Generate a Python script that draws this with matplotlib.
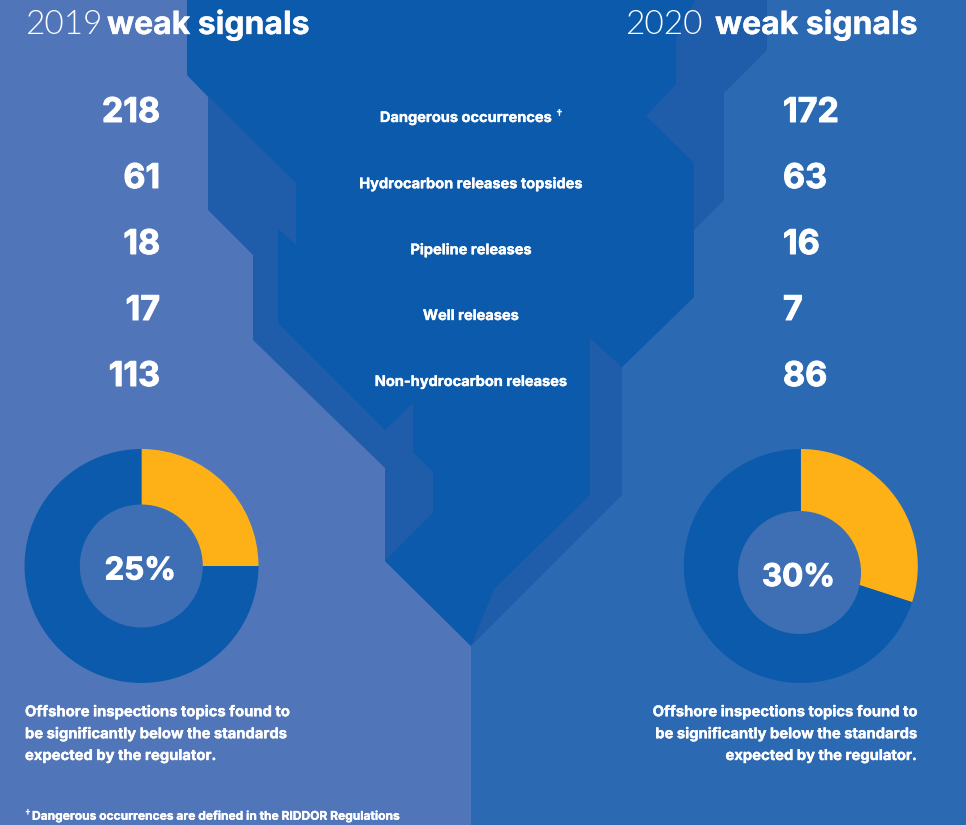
import matplotlib
matplotlib.use("Agg")
import matplotlib.pyplot as plt
import matplotlib.patheffects as pe
from matplotlib.patches import Polygon, Circle, Rectangle

categories = ["Dangerous occurrences", "Hydrocarbon releases topsides", "Pipeline releases",
              "Well releases", "Non-hydrocarbon releases"]
signals_2019 = [218, 61, 18, 17, 113]
signals_2020 = [172, 63, 16, 7, 86]
below_2019 = [25, 75]
below_2020 = [30, 70]
row_y = [110, 176, 242, 308, 374]

LEFT_BG = "#5175b9"
RIGHT_BG = "#2c69b3"
MID = "#1f5ca9"
DARK = "#0b5aac"
YELLOW = "#fdb116"
INNER = "#3e6fb5"
WHITE = "#ffffff"
BOLD = "Inter"
W, H = 966, 825

# Inter bold is a little lighter than the original face
HEAVY = [pe.withStroke(linewidth=0.7, foreground=WHITE)]
SEMI = [pe.withStroke(linewidth=0.25, foreground=WHITE)]

fig = plt.figure(figsize=(W / 100, H / 100), dpi=100)
ax = fig.add_axes([0, 0, 1, 1])
ax.set_xlim(0, W)
ax.set_ylim(H, 0)
ax.axis("off")

# background shapes, traced in pixels
ax.add_patch(Rectangle((0, 0), 471, H, color=LEFT_BG, lw=0))
ax.add_patch(Rectangle((471, 0), W - 471, H, color=RIGHT_BG, lw=0))
mid_shape = [(187, 0), (187, 75), (208, 97), (208, 210), (253, 255), (253, 340), (385, 468),
             (385, 561), (471, 646), (622, 495), (622, 367), (694, 297), (694, 230), (724, 200),
             (724, 93), (767, 50), (767, 0)]
dark_shape = [(187, 0), (187, 75), (296, 183), (296, 245), (278, 229), (278, 323), (385, 430),
              (413, 403), (413, 452), (433, 472), (433, 513), (385, 561), (471, 646), (494, 589),
              (590, 495), (590, 338), (622, 367), (694, 297), (694, 163), (646, 116), (676, 84),
              (676, 38), (695, 0)]
ax.add_patch(Polygon(mid_shape, closed=True, color=MID, lw=0))
ax.add_patch(Polygon(dark_shape, closed=True, color=DARK, lw=0))


def donut(values, cx, cy, hole_x, hole_y, label):
    # y axis is flipped so -90 is straight up
    ax.pie(values, colors=[YELLOW, DARK], center=(cx, cy), radius=117, startangle=-90,
           counterclock=True, frame=True, wedgeprops={"linewidth": 0})
    ax.add_patch(Circle((hole_x, hole_y), 61.5, color=INNER, lw=0, zorder=3))
    ax.text(hole_x - 1, hole_y + 5.5, label, color=WHITE, fontsize=22.5, family=BOLD, weight="bold",
            ha="center", va="center", zorder=4, path_effects=HEAVY)


donut(below_2019, 141.5, 566, 141.3, 566, f"{below_2019[0]}%")
donut(below_2020, 800.8, 566, 799.5, 572.5, f"{below_2020[0]}%")
ax.set_xlim(0, W)
ax.set_ylim(H, 0)
ax.set_aspect("auto")
ax.axis("off")

# titles
ax.text(25, 25, "2019", color=WHITE, fontsize=24, family="Lato", weight=300, va="center")
ax.text(107, 25, "weak signals", color=WHITE, fontsize=23, family=BOLD, weight="bold", va="center", path_effects=SEMI)
ax.text(625, 25, "2020", color=WHITE, fontsize=24, family="Lato", weight=300, va="center")
ax.text(715, 25, "weak signals", color=WHITE, fontsize=23, family=BOLD, weight="bold", va="center", path_effects=SEMI)

# rows
for y, a, b in zip(row_y, signals_2019, signals_2020):
    ax.text(160, y + 3, str(a), color=WHITE, fontsize=24.5, family=BOLD, weight="bold", ha="right", va="center", path_effects=HEAVY)
    ax.text(783, y + 3, str(b), color=WHITE, fontsize=24.5, family=BOLD, weight="bold", ha="left", va="center", path_effects=HEAVY)
for i, (y, name) in enumerate(zip(row_y, categories)):
    x = 466 if i == 0 else 471
    ax.text(x, y + 8, name, color=WHITE, fontsize=10.5, family=BOLD, weight="bold", ha="center", va="center", path_effects=SEMI)
ax.text(558, 115, "†", color=WHITE, fontsize=8.5, family=BOLD, weight="bold", ha="center", va="center")

# captions
left_lines = ["Offshore inspections topics found to", "be significantly below the standards",
              "expected by the regulator."]
for y, line in zip([712, 734, 756], left_lines):
    ax.text(25, y, line, color=WHITE, fontsize=10.65, family=BOLD, weight="bold", ha="left", va="center", path_effects=SEMI)
    ax.text(917, y, line, color=WHITE, fontsize=10.65, family=BOLD, weight="bold", ha="right", va="center", path_effects=SEMI)

ax.text(24, 814, "†", color=WHITE, fontsize=7, family=BOLD, weight="bold", ha="left", va="center")
ax.text(32, 816.5, "Dangerous occurrences are defined in the RIDDOR Regulations", color=WHITE, fontsize=8.65,
        family=BOLD, weight="bold", ha="left", va="center", path_effects=SEMI)

fig.savefig("out.png", dpi=100)
